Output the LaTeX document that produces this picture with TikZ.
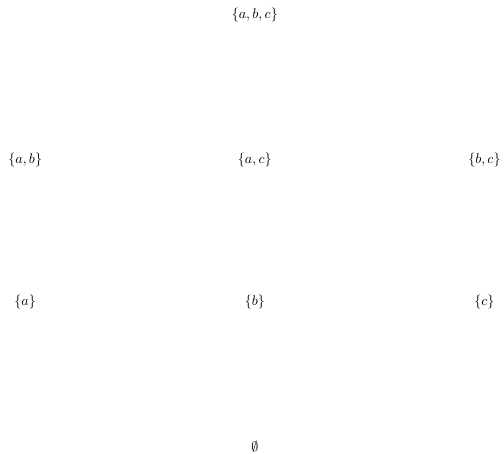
\documentclass[tikz,border=0pt]{standalone}
\usepackage{amssymb}
\begin{document}
\begin{tikzpicture}[x=1pt, y=1pt, every node/.style={inner sep=1pt}]

  \useasboundingbox (0, 0) rectangle (360, 324);

  % -- Top element --
  \node (abc) at (182, 313) {$\{a,b,c\}$};

  % -- Two-element subsets --
  \node (ab) at (18, 210) {$\{a,b\}$};
  \node (ac) at (182, 210) {$\{a,c\}$};
  \node (bc) at (346, 210) {$\{b,c\}$};

  % -- Singletons --
  \node (a) at (18, 108) {$\{a\}$};
  \node (b) at (182, 108) {$\{b\}$};
  \node (c) at (346, 108) {$\{c\}$};

  % -- Bottom element --
  \node (empty) at (182, 5) {$\emptyset$};

\end{tikzpicture}
\end{document}
